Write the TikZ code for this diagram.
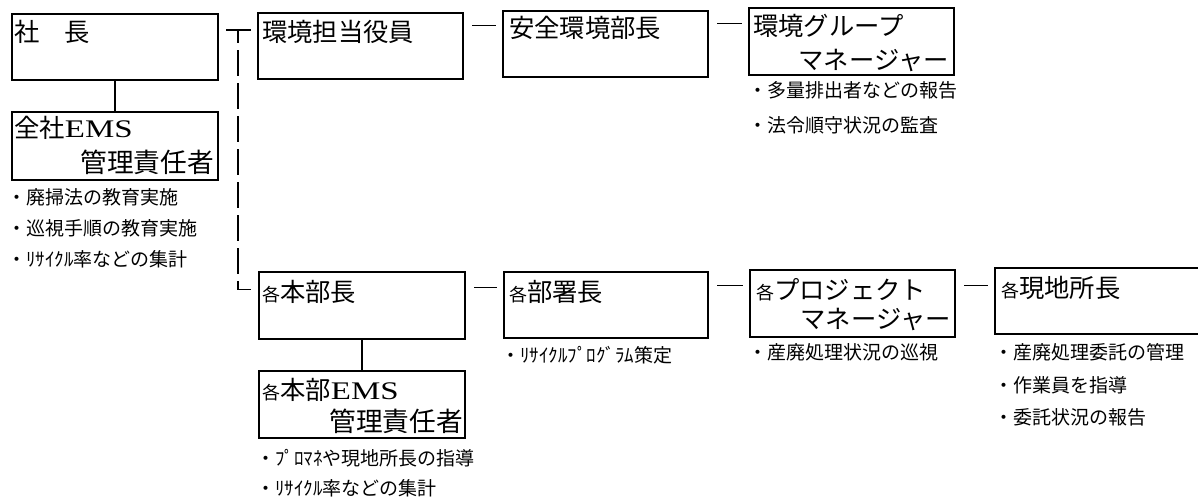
\documentclass[tikz,border=0pt]{standalone}
\usepackage{fontspec}
\setmainfont{Liberation Serif}
\newfontfamily\jp{Noto Sans CJK JP}
\usetikzlibrary{fit}
\newcommand{\EMS}{{\rmfamily\scalebox{1.3}[1]{EMS}}}
\newcommand{\kaku}{{\fontsize{13.5pt}{16pt}\selectfont 各}}

\begin{document}
\begin{tikzpicture}[x=0.75pt, y=-0.75pt,
	box/.style={draw, line width=1.8pt, inner sep=0pt},
	title/.style={inner sep=0pt, font=\fontsize{19pt}{22pt}\jp},
	item/.style={inner sep=0pt, anchor=west, font=\fontsize{14.25pt}{16pt}\jp},
	vlink/.style={line width=0.9pt},
	link/.style={line width=0.9pt, shorten <=6pt, shorten >=4.5pt},
	dashlink/.style={line width=0.9pt, dash pattern=on 19.5pt off 5.25pt, dash phase=9.75pt, shorten >=5.25pt}]
	\useasboundingbox (0,0) rectangle (1198,497);
	% boxes
	\node[box, fit={(12,14) (218,80)}] (shacho) {};
	\node[box, fit={(12,112) (218,180)}] (zensha) {};
	\node[box, fit={(258,13) (463,79)}] (yakuin) {};
	\node[box, fit={(503,11) (708,77)}] (anzen) {};
	\node[box, fit={(749,8) (954,75)}] (group) {};
	\node[box, fit={(259,272) (465,339)}] (honbu) {};
	\node[box, fit={(259,371) (465,438)}] (honbuems) {};
	\node[box, fit={(504,272) (708,338)}] (busho) {};
	\node[box, fit={(750,270) (955,337)}] (pm) {};
	\node[box, fit={(995,268) (1215,334)}] (genchi) {};
	% titles
	\node[title, anchor=west] (shachoT) at (14,32) {社　長};
	\node[title, anchor=west] (zenshaT) at (14,128) {全社\EMS};
	\node[title, anchor=east, font=\fontsize{20pt}{24pt}\jp] (zenshaT2) at (214,162) {管理責任者};
	\node[title, anchor=west] (yakuinT) at (262,32) {環境担当役員};
	\node[title, anchor=west] (anzenT) at (509,28) {安全環境部長};
	\node[title, anchor=west] (groupT) at (753,26) {環境グループ};
	\node[title, anchor=east] (groupT2) at (949,60) {マネージャー};
	\node[title, anchor=west] (honbuT) at (262,292) {\kaku 本部長};
	\node[title, anchor=west] (honbuemsT) at (262,390) {\kaku 本部\EMS};
	\node[title, anchor=east, font=\fontsize{20pt}{24pt}\jp] (honbuemsT2) at (463,421) {管理責任者};
	\node[title, anchor=west] (bushoT) at (509,292) {\kaku 部署長};
	\node[title, anchor=west] (pmT) at (756,290) {\kaku プロジェクト};
	\node[title, anchor=east] (pmT2) at (951,319) {マネージャー};
	\node[title, anchor=west] (genchiT) at (1001,288) {\kaku 現地所長};
	% duty lists
	\foreach \t [count=\i] in {廃掃法の教育実施, 巡視手順の教育実施, ﾘｻｲｸﾙ率などの集計}
		\node[item] (zenshaB\i) at (7,166+31*\i) {・\t};
	\foreach \t [count=\i] in {多量排出者などの報告, 法令順守状況の監査}
		\node[item] (groupB\i) at (748,55+35*\i) {・\t};
	\node[item] (bushoB1) at (501,355) {・ﾘｻｲｸﾙﾌﾟﾛｸﾞﾗﾑ策定};
	\node[item] (pmB1) at (748,352) {・産廃処理状況の巡視};
	\foreach \t [count=\i] in {産廃処理委託の管理, 作業員を指導, 委託状況の報告}
		\node[item] (genchiB\i) at (994,320+32.5*\i) {・\t};
	\foreach \t [count=\i] in {ﾌﾟﾛﾏﾈや現地所長の指導, ﾘｻｲｸﾙ率などの集計}
		\node[item] (honbuemsB\i) at (256,428+30*\i) {・\t};
	% connectors
	\draw[vlink] (shacho.south) -- (zensha.north);
	\draw[vlink] (honbu.south) -- (honbuems.north);
	\coordinate (tee) at (238,30);
	\draw[link, shorten <=5.25pt] (shacho.east |- tee) -- (yakuin.west |- tee);
	\draw[dashlink] (tee) |- ([yshift=-14.25pt]honbu.north west);
	\foreach \a/\b/\d in {yakuin/anzen/10.5, anzen/group/10.5, honbu/busho/12.75, busho/pm/11.25, pm/genchi/12.75} {
		\path ([yshift=-\d pt]\a.north east) coordinate (\a-\b);
		\draw[link] (\a-\b) -- (\a-\b -| \b.west);
	}
\end{tikzpicture}
\end{document}
